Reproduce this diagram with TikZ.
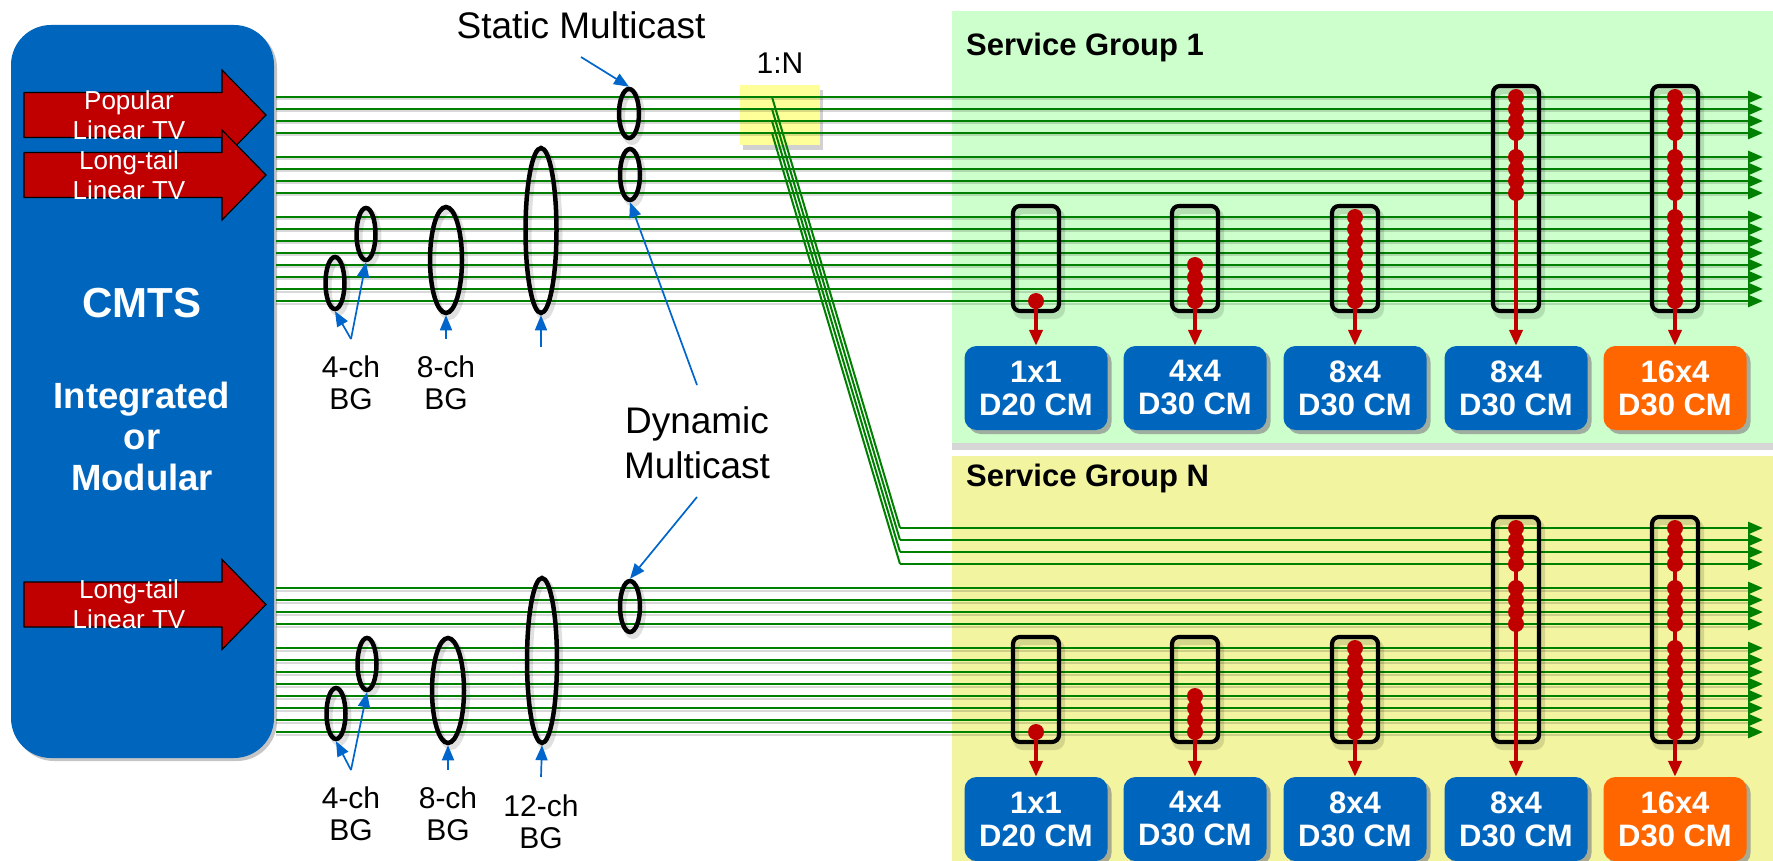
\documentclass[tikz,border=0pt]{standalone}
\usepackage{fontspec}
\setmainfont{Liberation Sans}
\usetikzlibrary{arrows.meta,shapes.geometric,shadows}

\definecolor{cmtsblue}{RGB}{0,102,189}
\definecolor{tvred}{RGB}{192,0,0}
\definecolor{chgreen}{RGB}{0,128,0}
\definecolor{sgone}{RGB}{204,255,204}
\definecolor{sgn}{RGB}{242,244,160}
\definecolor{splitter}{RGB}{255,255,153}
\definecolor{cmorange}{RGB}{255,102,0}
\definecolor{calloutblue}{RGB}{0,102,204}

\tikzset{
  tvarrow/.pic={
    \draw[fill=tvred, draw=black, line width=1.2pt]
      (0,-22.5) -- (198,-22.5) -- (198,-45) -- (242,0) -- (198,45) -- (198,22.5) -- (0,22.5) -- cycle;
  }
}

\begin{document}
\begin{tikzpicture}[x=1pt, y=-1pt,
  cmtsbox/.style={fill=cmtsblue, rounded corners=40pt, minimum width=263pt, minimum height=733pt,
    inner sep=0pt, drop shadow={shadow xshift=3pt, shadow yshift=-3pt, fill=black!45, opacity=.5}},
  cmtsname/.style={text=white, font={\bfseries\fontsize{42}{48}\selectfont}, inner sep=0pt},
  cmtskind/.style={text=white, font={\bfseries\fontsize{36.5}{41}\selectfont}, align=center, inner sep=0pt},
  tvtext/.style={text=white, font={\fontsize{26}{30}\selectfont}, align=center, inner sep=0pt},
  lbl/.style={font={\fontsize{30}{32}\selectfont}, align=center, inner sep=0pt},
  biglbl/.style={font={\fontsize{37}{45}\selectfont}, align=center, inner sep=0pt},
  sgtitle/.style={font={\bfseries\fontsize{31}{36}\selectfont}, anchor=west, inner sep=0pt},
  chan/.style={draw=chgreen, line width=2.9pt, -{Triangle[length=15pt,width=12pt]}},
  replica/.style={draw=chgreen, line width=2pt},
  chanshade/.style={draw=black, opacity=.15, line width=2pt},
  ring/.style={ellipse, draw=black, line width=4.5pt, inner sep=0pt},
  ringshade/.style={ellipse, draw=black, opacity=.12, line width=6pt, inner sep=0pt},
  callout/.style={draw=calloutblue, line width=1.7pt, -{Triangle[length=15pt,width=12pt]}},
  slot/.style={draw=black, line width=4.2pt, rounded corners=7pt, minimum width=46pt, inner sep=0pt},
  slotshade/.style={draw=black, opacity=.12, line width=6pt, rounded corners=7pt, minimum width=46pt, inner sep=0pt},
  bead/.style={circle, fill=tvred, minimum size=16pt, inner sep=0pt},
  flow/.style={draw=tvred, line width=4.2pt, -{Triangle[length=16pt,width=13pt]}},
  modem/.style={fill=cmtsblue, rounded corners=12pt, text=white, font={\bfseries\fontsize{31}{33}\selectfont},
    align=center, minimum width=143pt, minimum height=84pt, inner sep=0pt,
    drop shadow={shadow xshift=4pt, shadow yshift=-4pt, fill=black!45, opacity=.7}}
]
\useasboundingbox (0,0) rectangle (1773,861);

% service group panels
\fill[sgone, drop shadow={shadow xshift=0pt, shadow yshift=-7pt, fill=black!40, opacity=.4}] (952,11) rectangle (1800,443);
\fill[sgn] (952,456) rectangle (1800,890);

% CMTS block
\node[cmtsbox] (cmts) at (142.5,391.5) {};
\node[cmtsname] (cmtsname) at (142,303) {CMTS};
\node[cmtskind] (cmtskind) at (142,436) {Integrated\\or\\Modular};

% linear TV sources
\pic at (24,115) {tvarrow};
\pic at (24,175) {tvarrow};
\pic at (24,604.5) {tvarrow};
\node[tvtext] (tvpop) at (129,115) {Popular\\Linear TV};
\node[tvtext] (tvlong) at (129,175) {Long-tail\\Linear TV};
\node[tvtext] (tvlongb) at (129,604.5) {Long-tail\\Linear TV};

% 1:N replication point
\node[fill=splitter, minimum width=80pt, minimum height=60pt, inner sep=0pt,
  drop shadow={shadow xshift=3pt, shadow yshift=-5pt, fill=black!40, opacity=.45}] (split) at (780,115) {};
\node[lbl] (splitlbl) at (780,63) {1:N};

% downstream channels
\def\topidx{0,1,2,3,5,6,7,8,10,11,12,13,14,15,16,17}
\def\botidx{5,6,7,8,10,11,12,13,14,15,16,17}
\foreach \i in \topidx {
  \draw[chanshade] (276,99.5+12*\i) -- (1750,99.5+12*\i);
  \draw[chan] (276,97+12*\i) -- (1763,97+12*\i);
}
\foreach \i in \botidx {
  \draw[chanshade] (276,530.5+12*\i) -- (1750,530.5+12*\i);
  \draw[chan] (276,528+12*\i) -- (1763,528+12*\i);
}
% replicated popular channels towards service group N
\foreach \i in {0,1,2,3} {
  \coordinate (rep-s\i) at (772,97+12*\i);
  \coordinate (rep-b\i) at (900,528+12*\i);
  \coordinate (rep-e\i) at (1763,528+12*\i);
  \draw[replica] (rep-s\i) -- (rep-b\i);
  \draw[chan] (rep-b\i) -- (rep-e\i);
}

% bonding groups and multicast sessions
\foreach \n/\x/\y/\w/\h in {sm1/629/113.5/20/49, dma/630/174.5/20/51, q4a/335/283/19/52,
    q4b/366/234/19/52, q8/446/260/32/106, q12/541/230.5/31/165, dmb/630/606.5/20/51,
    r4a/336/713.5/19/51, r4b/367/664/19/52, r8/448/690.5/32/105, r12/542/660.5/30/165} {
  \node[ringshade, minimum width=\w, minimum height=\h] at (\x+3,\y+4) {};
  \node[ring, minimum width=\w, minimum height=\h] (\n) at (\x,\y) {};
}

% callouts
\coordinate (c4top) at (351,339);
\coordinate (c8top) at (446,339);
\coordinate (c12top) at (541,347);
\coordinate (c4bot) at (351,770);
\coordinate (c8bot) at (448,770);
\coordinate (c12bot) at (541,777);
\coordinate (cstatic) at (581,57);
\coordinate (cdyn1) at (697,385);
\coordinate (cdyn2) at (697,497);
\draw[callout] (c4top) -- (q4a.south);
\draw[callout] (c4top) -- (q4b.south);
\draw[callout] (c8top) -- (q8.south);
\draw[callout] (c12top) -- (q12.south);
\draw[callout] (c4bot) -- (r4a.south);
\draw[callout] (c4bot) -- (r4b.south);
\draw[callout] (c8bot) -- (r8.south);
\draw[callout] (c12bot) -- (r12.south);
\draw[callout] (cstatic) -- (sm1.north);
\draw[callout] (cdyn1) -- (dma.south);
\draw[callout] (cdyn2) -- (dmb.north);

\node[lbl] (l4top) at (351,382.5) {4-ch\\BG};
\node[lbl] (l8top) at (446,382.5) {8-ch\\BG};
\node[lbl] (l4bot) at (351,814) {4-ch\\BG};
\node[lbl] (l8bot) at (448,814) {8-ch\\BG};
\node[lbl] (l12bot) at (541,821.5) {12-ch\\BG};
\node[biglbl] (static) at (581,25) {Static Multicast};
\node[biglbl] (dynamic) at (697,442.5) {Dynamic\\Multicast};

% service groups with their cable modems
\foreach \g/\off/\sgname in {a/0/Service Group 1, b/431/Service Group N} {
  \node[sgtitle] (\g-title) at (966,47+\off) {\sgname};
  \foreach \k/\x/\y/\h in {1/1036/258.5/105, 2/1195/258.5/105, 3/1355/258.5/105,
      4/1516/198.5/225, 5/1675/198.5/225} {
    \node[slotshade, minimum height=\h] at (\x+3,\y+5+\off) {};
    \node[slot, minimum height=\h] (\g-s\k) at (\x,\y+\off) {};
  }
  \node[modem] (\g-m1) at (1036,388+\off) {1x1\\D20 CM};
  \node[modem] (\g-m2) at (1195,388+\off) {4x4\\D30 CM};
  \node[modem] (\g-m3) at (1355,388+\off) {8x4\\D30 CM};
  \node[modem] (\g-m4) at (1516,388+\off) {8x4\\D30 CM};
  \node[modem, fill=cmorange] (\g-m5) at (1675,388+\off) {16x4\\D30 CM};
  \coordinate (\g-t1) at (1036,301+\off);
  \coordinate (\g-t2) at (1195,265+\off);
  \coordinate (\g-t3) at (1355,217+\off);
  \coordinate (\g-t4) at (1516,97+\off);
  \coordinate (\g-t5) at (1675,97+\off);
  \foreach \k in {1,...,5} {
    \draw[flow] (\g-t\k) -- (\g-m\k.north);
  }
  \node[bead] (\g-d1-17) at (1036,301+\off) {};
  \foreach \i in {14,...,17} { \node[bead] (\g-d2-\i) at (1195,97+12*\i+\off) {}; }
  \foreach \i in {10,...,17} { \node[bead] (\g-d3-\i) at (1355,97+12*\i+\off) {}; }
  \foreach \i in {0,1,2,3,5,6,7,8} { \node[bead] (\g-d4-\i) at (1516,97+12*\i+\off) {}; }
  \foreach \i in \topidx { \node[bead] (\g-d5-\i) at (1675,97+12*\i+\off) {}; }
}
\end{tikzpicture}
\end{document}
